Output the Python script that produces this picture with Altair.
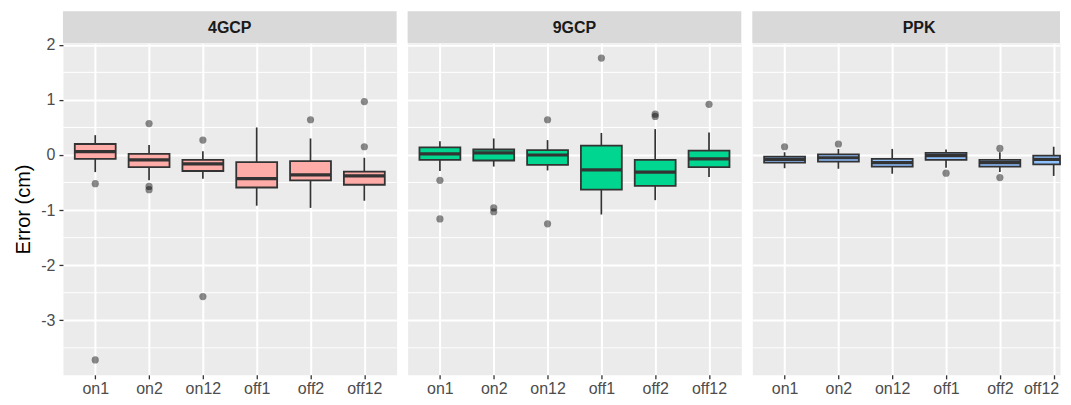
import altair as alt
import pandas as pd

cats = ["on1", "on2", "on12", "off1", "off2", "off12"]
panels = ["4GCP", "9GCP", "PPK"]
fills = ["#FFABA7", "#00D68F", "#8FC1FF"]
y_ticks = [-3, -2, -1, 0, 1, 2]
y_minor = [-3.5, -2.5, -1.5, -0.5, 0.5, 1.5]

# box statistics per panel
lower = {
    "4GCP": [-0.31, -0.46, -0.43, -0.92, -0.96, -0.83],
    "9GCP": [-0.29, -0.21, -0.28, -1.08, -0.82, -0.40],
    "PPK": [-0.24, -0.25, -0.34, -0.23, -0.31, -0.38],
}
q1 = {
    "4GCP": [-0.07, -0.22, -0.29, -0.59, -0.46, -0.54],
    "9GCP": [-0.09, -0.10, -0.18, -0.63, -0.56, -0.22],
    "PPK": [-0.14, -0.12, -0.21, -0.09, -0.21, -0.17],
}
median = {
    "4GCP": [0.06, -0.09, -0.16, -0.43, -0.36, -0.38],
    "9GCP": [0.02, 0.04, 0.00, -0.27, -0.31, -0.07],
    "PPK": [-0.08, -0.05, -0.14, -0.01, -0.14, -0.08],
}
q3 = {
    "4GCP": [0.20, 0.02, -0.09, -0.13, -0.11, -0.30],
    "9GCP": [0.14, 0.10, 0.09, 0.17, -0.09, 0.08],
    "PPK": [-0.03, 0.01, -0.07, 0.04, -0.09, -0.01],
}
upper = {
    "4GCP": [0.36, 0.18, 0.07, 0.50, 0.30, -0.05],
    "9GCP": [0.25, 0.30, 0.27, 0.40, 0.47, 0.41],
    "PPK": [0.05, 0.11, 0.11, 0.10, 0.05, 0.15],
}
outlier_cat = {
    "4GCP": ["on1", "on1", "on2", "on2", "on2", "on12", "on12", "off2", "off12", "off12"],
    "9GCP": ["on1", "on1", "on2", "on2", "on12", "on12", "off1", "off2", "off2", "off12"],
    "PPK": ["on1", "on2", "off1", "off2", "off2"],
}
outlier_val = {
    "4GCP": [-0.52, -3.72, 0.57, -0.57, -0.63, 0.27, -2.57, 0.64, 0.97, 0.15],
    "9GCP": [-0.46, -1.16, -0.96, -1.03, 0.64, -1.25, 1.76, 0.74, 0.70, 0.92],
    "PPK": [0.15, 0.20, -0.33, 0.12, -0.41],
}

W = 334          # full panel width
W_LAST = 308     # visible part of the last panel (cut at the right, as in the source)
H = 332
FONT = "Liberation Sans"
DARK = "#333333"
HALF_BOX = 0.38
X_LO, X_HI = 0.4, len(cats) + 0.6

yscale = alt.Scale(domain=[-3.99, 2.03], nice=False, zero=False)
pos_of = {c: i + 1 for i, c in enumerate(cats)}
label_expr = "[" + ",".join("'%s'" % c for c in cats) + "][datum.value - 1]"


def make_panel(name, fill, idx):
    first = idx == 0
    last = idx == len(panels) - 1
    pw = W_LAST if last else W
    df = pd.DataFrame({
        "cat": cats, "pos": [pos_of[c] for c in cats],
        "lower": lower[name], "q1": q1[name],
        "median": median[name], "q3": q3[name], "upper": upper[name],
    })
    odf = pd.DataFrame({"pos": [pos_of[c] for c in outlier_cat[name]],
                        "value": outlier_val[name]})
    if first:
        yaxis = alt.Axis(values=y_ticks, title="Error (cm)", grid=True,
                         labelExpr="datum.value < 0 ? '-' + abs(datum.value) : '' + datum.value")
    else:
        yaxis = alt.Axis(values=y_ticks, title=None, labels=False, ticks=False,
                         domain=False, grid=True)
    x_hi = X_LO + (X_HI - X_LO) * pw / W
    xscale = alt.Scale(domain=[X_LO, x_hi], nice=False, zero=False, clamp=True)
    if last:
        xaxis = alt.Axis(
            title=None, labelAngle=0, grid=True, values=list(range(1, len(cats) + 1)),
            labelExpr=label_expr,
            labelAlign={"condition": {"test": "datum.value == 6", "value": "right"},
                        "value": "center"},
            labelOffset={"condition": {"test": "datum.value == 6", "value": 5},
                         "value": 0},
        )
    else:
        xaxis = alt.Axis(title=None, labelAngle=0, grid=True,
                         values=list(range(1, len(cats) + 1)), labelExpr=label_expr)

    Y = lambda f: alt.Y(f, scale=yscale, axis=yaxis)

    minor = alt.Chart(pd.DataFrame({"v": y_minor})).mark_rule(
        color="white", strokeWidth=1
    ).encode(y=Y("v:Q"))

    whisk = alt.Chart(df).mark_rule(color=DARK, strokeWidth=1.7).encode(
        x=alt.X("pos:Q", scale=xscale, axis=xaxis), y=Y("lower:Q"), y2="upper:Q")

    base = alt.Chart(df).transform_calculate(
        xl="datum.pos - %s" % HALF_BOX, xr="datum.pos + %s" % HALF_BOX)

    box = base.mark_rect(fill=fill, stroke=DARK, strokeWidth=1.8).encode(
        x=alt.X("xl:Q", scale=xscale, axis=xaxis), x2="xr:Q",
        y=Y("q1:Q"), y2="q3:Q")

    med = base.mark_rule(color=DARK, strokeWidth=3.2).encode(
        x=alt.X("xl:Q", scale=xscale, axis=xaxis), x2="xr:Q", y=Y("median:Q"))

    pts = alt.Chart(odf).mark_circle(color="black", opacity=0.45, size=52).encode(
        x=alt.X("pos:Q", scale=xscale, axis=xaxis), y=Y("value:Q"))

    sdf = pd.DataFrame({"panel": [name]})
    strip = alt.Chart(sdf).mark_rect(color="#D9D9D9").encode(
        x=alt.value(0), x2=alt.value(pw), y=alt.value(-32), y2=alt.value(0))
    stext = alt.Chart(sdf).mark_text(
        font=FONT, fontSize=16, fontWeight="bold", color="#1A1A1A",
        align="center", baseline="middle"
    ).encode(x=alt.value(W / 2), y=alt.value(-15), text="panel:N")

    return alt.layer(minor, whisk, box, med, pts, strip, stext).properties(
        width=pw, height=H)


charts = [make_panel(p, f, i) for i, (p, f) in enumerate(zip(panels, fills))]

chart = alt.hconcat(*charts, spacing=9).resolve_scale(
    x="independent", y="independent"
).properties(
    padding={"top": 2, "left": 5, "right": 0, "bottom": 0}
).configure_view(
    fill="#EBEBEB", stroke="transparent"
).configure_axis(
    gridColor="white", gridWidth=2, domain=False,
    tickColor=DARK, tickSize=4, tickWidth=1.3,
    labelColor="#4D4D4D", labelFont=FONT, labelFontSize=16,
    titleFont=FONT, titleFontSize=20, titleColor="black", titleFontWeight="normal",
).configure_axisY(
    labelPadding=4, titlePadding=7
).configure_axisX(
    labelPadding=2
)

chart.save("out.html", embed_options={"renderer": "svg", "actions": False})
